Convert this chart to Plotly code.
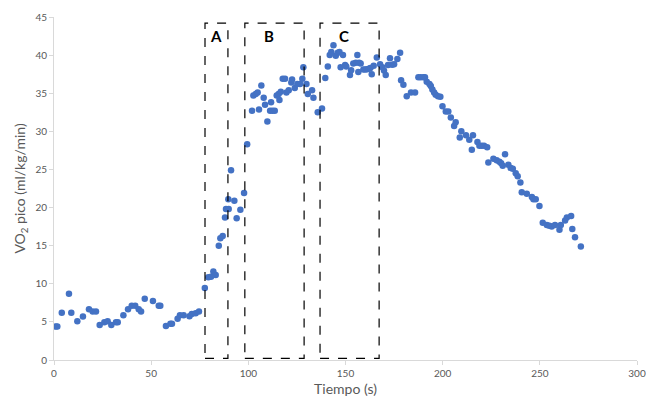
import plotly.graph_objects as go

tiempo = [0.9, 1.7, 4.0, 7.7, 8.9, 12.0, 14.9, 18.0, 19.9, 21.6, 23.5, 25.9, 27.6, 29.5,
          31.9, 32.8, 35.7, 38.1, 40.0, 41.8, 43.6, 44.8, 46.7, 50.9, 53.9, 54.7, 57.6,
          59.9, 60.7, 63.6, 64.8, 66.7, 69.7, 70.9, 72.9, 74.6,
          77.6, 79.4, 80.8, 82.0, 83.2, 84.8, 85.6, 86.8, 88.0, 88.5, 89.9, 89.7, 91.1,
          92.8, 94.0, 95.9, 97.8, 99.4,
          101.9, 102.6, 103.8, 104.8, 105.5, 106.7, 107.9, 108.6, 109.8, 111.2, 112.4,
          113.6, 111.7, 114.6, 115.6, 116.0, 116.7, 117.7, 118.9, 119.6, 120.8, 122.1,
          122.5, 123.9, 125.2, 126.6, 127.8, 128.3, 129.9, 130.6, 132.8, 133.5, 135.7,
          137.9, 139.6, 140.9, 141.9, 142.7, 143.8, 145.0, 146.0, 146.9, 148.7, 147.5,
          149.8, 150.4, 152.3, 152.9, 154.0, 155.3, 156.1, 156.6, 157.0, 157.8, 159.2,
          160.2, 161.1, 162.1, 162.8, 163.5, 164.5, 166.1, 167.8, 169.0, 169.8, 170.7,
          171.9, 172.9, 174.0, 175.0, 176.7, 178.1, 178.6, 179.8, 181.5, 183.7, 185.8,
          187.5, 188.7, 190.1, 190.9, 191.8, 193.2, 193.9, 194.7, 195.6, 196.4, 197.6,
          198.8, 199.9, 201.6, 202.9, 204.2, 205.9, 206.7, 208.8, 209.6, 212.0, 213.7,
          215.0, 215.6, 217.9, 218.9, 220.1, 221.3, 222.9, 223.5, 226.1, 227.8, 229.2,
          230.1, 230.9, 232.1, 233.8, 235.0, 236.1, 237.6, 238.6, 240.0, 240.7, 243.3,
          245.9, 246.7, 247.9, 249.8, 251.5, 253.6, 254.9, 256.1, 257.8, 260.1, 260.8,
          263.0, 263.9, 266.1, 266.7, 268.1, 271.1]

vo2 = [4.4, 4.4, 6.2, 8.7, 6.2, 5.1, 5.7, 6.65, 6.35, 6.35, 4.6, 4.95, 5.1, 4.6,
       4.95, 4.95, 5.86, 6.65, 7.13, 7.13, 6.65, 6.35, 8.05, 7.74, 7.13, 7.13, 4.46,
       4.77, 4.77, 5.42, 5.86, 5.86, 5.73, 6.04, 6.12, 6.35,
       9.45, 10.85, 10.93, 11.6, 11.15, 15.0, 15.97, 16.27, 18.7, 19.8, 19.8, 21.1, 24.9,
       20.9, 18.6, 19.7, 21.9, 28.3,
       32.7, 34.7, 34.9, 35.1, 32.85, 36.0, 34.4, 33.5, 31.3, 32.7, 32.7,
       32.7, 33.8, 34.7, 34.9, 34.1, 35.2, 36.9, 36.9, 35.1, 35.4, 36.4,
       36.8, 35.7, 36.2, 36.2, 36.9, 38.4, 36.2, 34.9, 35.4, 34.4, 32.5,
       33.0, 37.0, 38.5, 40.0, 40.4, 41.3, 39.9, 40.3, 40.4, 40.0, 38.4,
       38.7, 38.5, 37.4, 38.0, 38.9, 39.0, 40.0, 37.8, 39.0, 38.9, 38.1,
       38.1, 38.15, 38.2, 38.3, 37.5, 38.6, 39.7, 38.8, 38.4, 37.97, 37.4,
       38.7, 39.6, 38.75, 38.8, 39.5, 40.3, 36.7, 36.1, 34.6, 35.1, 35.1,
       37.1, 37.1, 37.1, 37.1, 36.5, 36.2, 35.96, 35.5, 35.1, 34.8, 34.6,
       34.55, 33.3, 32.6, 32.6, 31.8, 30.7, 31.2, 29.2, 30.0, 29.5, 28.9,
       27.6, 29.5, 28.6, 28.1, 28.1, 28.1, 27.9, 25.9, 26.4, 26.2, 26.0,
       25.8, 25.5, 27.0, 25.6, 25.2, 25.1, 24.5, 24.1, 23.3, 22.0, 21.8,
       21.4, 21.1, 21.1, 20.2, 18.0, 17.7, 17.6, 17.5, 17.7, 17.1, 17.7,
       18.3, 18.7, 18.9, 17.2, 16.1, 14.9]

fases = ["A", "B", "C"]
fase_inicio = [77.7, 98.2, 136.9]
fase_fin = [89.5, 128.7, 167.3]
fase_bajo = 0.22
fase_alto = 44.2
fase_label_x = [83.4, 110.7, 149.2]
fase_label_y = 42.5

fig = go.Figure()
fig.add_trace(go.Scatter(
    x=tiempo, y=vo2, mode="markers",
    marker=dict(color="#4472C4", size=6.5),
    showlegend=False, hoverinfo="x+y"))

for name, x0, x1, lx in zip(fases, fase_inicio, fase_fin, fase_label_x):
    fig.add_shape(type="rect", xref="x", yref="y", x0=x0, x1=x1, y0=fase_bajo, y1=fase_alto,
                  line=dict(color="black", width=1.2, dash="dash"), fillcolor="rgba(0,0,0,0)")
    fig.add_annotation(x=lx, y=fase_label_y, text="<b>" + name + "</b>", showarrow=False,
                       font=dict(family="Lato, Open Sans, sans-serif", size=15, color="black"))

axis_font = dict(family="Lato, Open Sans, sans-serif", size=10, color="#595959")
fig.update_layout(
    width=646, height=401,
    margin=dict(l=54, r=9, t=17, b=41, autoexpand=False),
    paper_bgcolor="white", plot_bgcolor="white",
    font=dict(family="Lato, Open Sans, sans-serif"),
    xaxis=dict(range=[0, 300], tickvals=[0, 50, 100, 150, 200, 250, 300],
               showgrid=False, zeroline=False, showline=True, linecolor="#D9D9D9", linewidth=1,
               ticks="outside", ticklen=4, tickcolor="#D9D9D9", tickfont=axis_font,
               automargin=False,
               title=dict(text="Tiempo (s)", font=dict(size=14, color="#595959"), standoff=6)),
    yaxis=dict(range=[0, 45], tickvals=[0, 5, 10, 15, 20, 25, 30, 35, 40, 45],
               showgrid=False, zeroline=False, showline=True, linecolor="#D9D9D9", linewidth=1,
               ticks="outside", ticklen=4, tickcolor="#D9D9D9", tickfont=axis_font,
               automargin=False,
               title=dict(text="VO<sub>2</sub> pico (ml/kg/min)", font=dict(size=14, color="#595959"),
                          standoff=6)),
)
fig.write_html("out.html", config={"displayModeBar": False},
               post_script="document.body.style.margin='0';document.body.style.overflow='hidden';")
